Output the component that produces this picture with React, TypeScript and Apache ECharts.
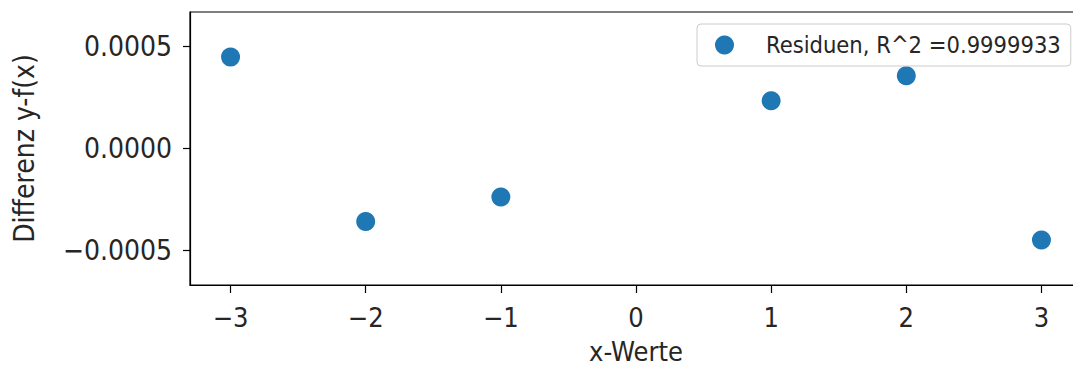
import React, { useEffect, useRef } from "react";
import * as echarts from "echarts";

const xValues = [-3, -2, -1, 1, 2, 3];
const residuals = [0.000449, -0.000358, -0.000238, 0.000234, 0.000357, -0.000449];
const xTicks = [-3, -2, -1, 0, 1, 2, 3];
const yTicks = [-0.0005, 0, 0.0005];
const seriesName = "Residuen, R^2 =0.9999933";
const xLabel = "x-Werte";
const yLabel = "Differenz y-f(x)";

const FONT = "'DejaVu Sans Condensed', 'DejaVu Sans'";
const TEXT = "#262626";
const BLUE = "#1f77b4";

function fmtY(v: number): string {
  const s = Math.abs(v).toFixed(4);
  return (v < -1e-12 ? "\u2212" : "") + s;
}
function fmtX(v: number): string {
  const r = Math.round(v);
  return (r < 0 ? "\u2212" : "") + Math.abs(r);
}

export default function App() {
  const ref = useRef<HTMLDivElement>(null);
  useEffect(() => {
    if (!ref.current) return;
    const chart = echarts.init(ref.current, null, { renderer: "svg" });
    chart.setOption({
      animation: false,
      backgroundColor: "#ffffff",
      textStyle: { fontFamily: FONT, color: TEXT },
      grid: {
        left: 190,
        top: 12,
        right: 18,
        bottom: 82,
        containLabel: false,
        outerBoundsMode: "none",
        show: true,
        borderColor: "#000",
        borderWidth: 1.2,
        backgroundColor: "transparent",
      },
      legend: {
        show: true,
        left: 697,
        top: 24,
        orient: "horizontal",
        data: [{ name: seriesName, icon: "circle" }],
        itemWidth: 19,
        itemHeight: 19,
        padding: [9, 10, 9, 18],
        borderColor: "#cccccc",
        borderWidth: 1,
        borderRadius: 4,
        backgroundColor: "rgba(255,255,255,0.8)",
        textStyle: {
          fontFamily: FONT,
          fontSize: 23.5,
          color: TEXT,
          padding: [0, 0, 0, 27],
        },
      },
      xAxis: {
        type: "value",
        min: -3.3,
        max: 3.3,
        name: xLabel,
        nameLocation: "middle",
        nameGap: 53,
        nameTextStyle: { fontFamily: FONT, fontSize: 27, color: TEXT },
        splitLine: { show: false },
        axisLine: { show: true, onZero: false, lineStyle: { color: "#000", width: 1.2 } },
        axisTick: {
          show: true,
          inside: false,
          length: 8,
          lineStyle: { color: "#000", width: 1.2 },
          customValues: xTicks,
        },
        axisLabel: {
          show: true,
          margin: 19,
          fontFamily: FONT,
          fontSize: 27,
          color: TEXT,
          customValues: xTicks,
          formatter: (v: number) => fmtX(v),
        },
      },
      yAxis: {
        type: "value",
        min: -0.00067,
        max: 0.00067,
        name: yLabel,
        nameLocation: "middle",
        nameGap: 152,
        nameTextStyle: { fontFamily: FONT, fontSize: 28, color: TEXT },
        splitLine: { show: false },
        axisLine: { show: true, onZero: false, lineStyle: { color: "#000", width: 1.2 } },
        axisTick: {
          show: true,
          inside: false,
          length: 7,
          lineStyle: { color: "#000", width: 1.2 },
          customValues: yTicks,
        },
        axisLabel: {
          show: true,
          margin: 18,
          fontFamily: FONT,
          fontSize: 28,
          color: TEXT,
          customValues: yTicks,
          formatter: (v: number) => fmtY(v),
        },
      },
      series: [
        {
          name: seriesName,
          type: "scatter",
          symbol: "circle",
          symbolSize: 19,
          itemStyle: { color: BLUE, opacity: 1 },
          data: xValues.map((x, i) => [x, residuals[i]]),
        },
      ],
    });
    return () => chart.dispose();
  }, []);
  return (
    <div
      style={{
        position: "fixed",
        left: 0,
        top: 0,
        width: 1073,
        height: 367,
        overflow: "hidden",
        background: "#fff",
      }}
    >
      <div ref={ref} style={{ width: 1100, height: 367 }} />
    </div>
  );
}
